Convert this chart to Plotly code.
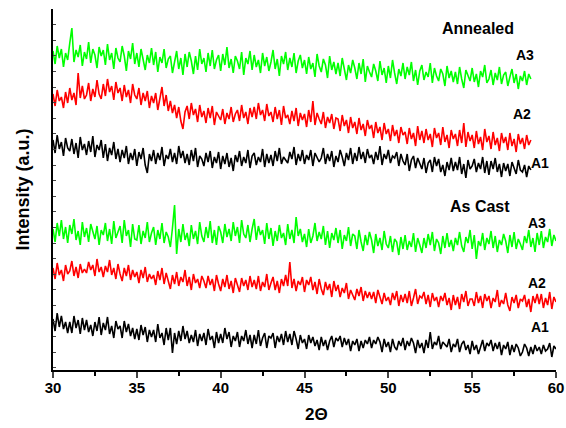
import plotly.graph_objects as go

# sampling grid (2-theta, degrees)
X_START = 30.0
X_STEP = 0.125

# ---- Annealed (30 - 58.5) ----
annealed_A3 = [
    318, 305, 323, 311, 320, 302, 316, 309,
    326, 341, 307, 319, 312, 324, 303, 317,
    310, 327, 306, 320, 314, 301, 322, 313,
    319, 304, 325, 309, 316, 300, 321, 311,
    307, 323, 313, 298, 318, 310, 326, 305,
    316, 302, 320, 308, 299, 314, 306, 321,
    304, 317, 297, 312, 306, 320, 301, 310,
    313, 296, 309, 318, 300, 311, 294, 315,
    302, 317, 308, 295, 313, 299, 320, 305,
    311, 297, 316, 303, 319, 300, 309, 314,
    298, 315, 304, 322, 301, 310, 296, 313,
    308, 300, 317, 294, 311, 305, 318, 299,
    314, 302, 309, 296, 316, 303, 312, 298,
    307, 319, 300, 310, 293, 313, 305, 317,
    299, 311, 302, 316, 296, 308, 314, 301,
    309, 295, 312, 300, 306, 292, 315, 303,
    297, 310, 304, 291, 313, 299, 307, 295,
    306, 293, 311, 298, 289, 304, 296, 309,
    301, 290, 306, 295, 310, 287, 303, 297,
    292, 305, 298, 288, 308, 294, 301, 286,
    303, 291, 309, 296, 285, 300, 293, 306,
    290, 302, 294, 307, 288, 299, 284, 298,
    304, 289, 297, 292, 306, 286, 301, 293,
    288, 300, 295, 283, 303, 291, 298, 287,
    297, 285, 302, 290, 281, 299, 294, 288,
    301, 287, 295, 282, 298, 292, 304, 286,
    290, 299, 284, 296, 289, 302, 285, 294,
    297, 283, 292, 300, 286, 295, 280, 293,
    288, 298, 284, 295, 290,
]
annealed_A2 = [
    275, 263, 279, 268, 272, 261, 277, 266,
    281, 269, 276, 264, 296, 271, 283, 270,
    274, 286, 268, 280, 272, 289, 275, 270,
    285, 273, 290, 277, 283, 269, 287, 276,
    281, 268, 284, 272, 279, 266, 285, 274,
    270, 281, 264, 276, 268, 278, 261, 273,
    266, 276, 259, 270, 282, 263, 274, 258,
    268, 256, 264, 251, 262, 248, 240, 257,
    263, 250, 266, 254, 260, 247, 264, 252,
    258, 246, 261, 251, 263, 244, 257, 253,
    249, 260, 245, 256, 250, 262, 247, 255,
    259, 248, 264, 251, 257, 245, 261, 252,
    262, 250, 266, 254, 259, 248, 265, 253,
    257, 247, 262, 250, 259, 244, 263, 251,
    254, 245, 258, 248, 261, 243, 256, 249,
    255, 242, 259, 247, 268, 244, 256, 250,
    245, 257, 241, 252, 246, 255, 240, 251,
    250, 238, 254, 243, 249, 236, 252, 241,
    247, 235, 251, 239, 245, 233, 249, 240,
    244, 231, 247, 236, 242, 229, 246, 235,
    240, 228, 244, 233, 239, 226, 242, 234,
    237, 225, 241, 230, 236, 223, 243, 229,
    238, 226, 240, 229, 235, 222, 241, 231,
    236, 224, 242, 227, 234, 221, 239, 230,
    235, 223, 239, 226, 246, 222, 237, 228,
    234, 221, 238, 225, 232, 219, 240, 227,
    233, 220, 237, 224, 231, 218, 236, 226,
    232, 219, 236, 223, 230, 217, 235, 225,
    231, 220, 234, 224, 229,
]
annealed_A1 = [
    229, 216, 234, 220, 227, 213, 231, 221,
    218, 230, 215, 226, 211, 232, 219, 225,
    214, 228, 217, 233, 212, 224, 219, 229,
    211, 225, 208, 221, 214, 227, 210, 220,
    207, 219, 211, 223, 205, 216, 209, 220,
    203, 217, 210, 221, 204, 196, 215, 208,
    219, 205, 216, 209, 222, 203, 214, 210,
    220, 207, 216, 205, 223, 211, 218, 206,
    215, 204, 219, 208, 221, 202, 213, 210,
    203, 216, 207, 218, 201, 212, 206, 217,
    200, 213, 205, 216, 202, 211, 198, 214,
    207, 218, 203, 212, 206, 219, 201, 213,
    216, 204, 212, 207, 220, 202, 215, 206,
    214, 203, 218, 208, 221, 205, 212, 209,
    206, 217, 210, 222, 204, 215, 208, 219,
    205, 214, 209, 219, 203, 216, 211, 207,
    211, 221, 205, 215, 208, 218, 202, 213,
    207, 219, 212, 203, 216, 209, 221, 205,
    216, 208, 222, 210, 217, 206, 220, 211,
    214, 205, 217, 209, 223, 204, 215, 210,
    219, 206, 213, 211, 217, 203, 215, 208,
    204, 215, 198, 209, 213, 201, 211, 205,
    200, 211, 196, 206, 209, 197, 212, 203,
    210, 197, 204, 193, 207, 199, 211, 198,
    207, 199, 212, 195, 205, 191, 209, 200,
    203, 210, 197, 206, 200, 212, 196, 208,
    194, 208, 200, 211, 197, 205, 192, 206,
    198, 205, 193, 207, 201, 195, 209, 199,
    197, 204, 192, 203, 199,
]

# ---- As Cast (30 - 60) ----
ascast_A3 = [
    140, 127, 146, 133, 149, 130, 142, 126,
    144, 135, 150, 129, 138, 124, 147, 132,
    141, 127, 145, 136, 130, 143, 124, 139,
    134, 146, 128, 140, 125, 148, 131, 137,
    143, 126, 149, 133, 139, 122, 145, 130,
    129, 144, 125, 138, 131, 147, 127, 136,
    142, 124, 139, 130, 146, 126, 137, 132,
    122, 141, 164, 115, 140, 127, 145, 129,
    136, 123, 144, 130, 138, 125, 147, 133,
    127, 142, 131, 148, 126, 139, 124, 143,
    137, 126, 145, 132, 140, 128, 147, 133,
    142, 126, 149, 135, 131, 144, 127, 140,
    150, 129, 143, 134, 139, 125, 146, 130,
    141, 123, 138, 128, 144, 131, 136, 124,
    145, 130, 139, 126, 152, 133, 140, 127,
    135, 122, 140, 126, 133, 146, 128, 137,
    130, 143, 124, 138, 121, 136, 129, 141,
    126, 139, 120, 134, 128, 142, 123, 135,
    133, 120, 139, 127, 118, 134, 124, 137,
    129, 116, 135, 123, 131, 119, 138, 125,
    121, 133, 117, 130, 127, 114, 132, 120,
    134, 119, 128, 122, 136, 117, 131, 124,
    116, 131, 121, 135, 124, 137, 118, 130,
    126, 115, 133, 121, 136, 122, 129, 118,
    131, 124, 137, 123, 117, 132, 126, 139,
    120, 134, 110, 128, 123, 136, 119, 131,
    125, 138, 121, 133, 117, 129, 124, 135,
    128, 116, 134, 122, 137, 120, 130, 125,
    119, 133, 126, 139, 122, 131, 117, 136,
    124, 138, 121, 132, 127, 140, 123, 134,
    128,
]
ascast_A2 = [
    101, 90, 106, 94, 99, 88, 104, 95,
    98, 108, 93, 102, 91, 105, 96, 100,
    96, 107, 99, 104, 93, 110, 97, 102,
    92, 103, 97, 109, 94, 101, 90, 105,
    95, 88, 101, 93, 104, 89, 99, 92,
    97, 86, 99, 91, 102, 87, 95, 90,
    94, 84, 98, 89, 101, 85, 96, 88,
    80, 94, 85, 97, 83, 92, 87, 99,
    83, 92, 79, 95, 86, 90, 81, 93,
    88, 81, 93, 84, 90, 78, 94, 85,
    78, 90, 82, 94, 80, 88, 76, 91,
    85, 77, 91, 83, 89, 79, 93, 82,
    89, 80, 93, 78, 87, 82, 95, 79,
    86, 92, 79, 88, 76, 90, 83, 94,
    83, 107, 81, 90, 78, 88, 84, 92,
    77, 89, 84, 92, 79, 87, 75, 90,
    80, 74, 87, 79, 85, 72, 88, 78,
    84, 72, 81, 76, 86, 70, 79, 74,
    69, 80, 73, 82, 68, 78, 71, 77,
    70, 77, 66, 79, 72, 65, 76, 68,
    72, 64, 76, 69, 78, 63, 74, 67,
    75, 66, 78, 63, 71, 80, 65, 73,
    71, 77, 65, 74, 62, 76, 68, 72,
    62, 73, 68, 76, 64, 71, 59, 74,
    64, 72, 60, 75, 67, 78, 63, 70,
    70, 63, 77, 66, 73, 61, 75, 68,
    73, 61, 71, 67, 79, 62, 69, 65,
    76, 64, 58, 72, 66, 74, 61, 70,
    68, 74, 62, 70, 57, 73, 66, 75,
    65, 75, 61, 71, 64, 77, 60, 72,
    67,
]
ascast_A1 = [
    50, 38, 56, 42, 53, 40, 47, 36,
    47, 36, 53, 41, 49, 35, 51, 39,
    49, 37, 44, 33, 47, 38, 52, 34,
    46, 39, 52, 35, 43, 31, 48, 40,
    43, 31, 48, 37, 45, 33, 41, 30,
    40, 29, 44, 34, 42, 27, 39, 32,
    39, 27, 45, 31, 36, 24, 41, 29,
    41, 16, 36, 25, 38, 28, 43, 30,
    38, 26, 34, 27, 39, 23, 35, 28,
    36, 24, 40, 29, 33, 21, 37, 26,
    35, 26, 41, 30, 37, 22, 33, 28,
    37, 22, 33, 28, 39, 25, 34, 21,
    34, 25, 39, 23, 31, 36, 21, 33,
    31, 36, 21, 33, 27, 35, 24, 38,
    27, 35, 24, 38, 30, 20, 34, 26,
    30, 20, 34, 26, 32, 23, 29, 19,
    32, 23, 29, 19, 28, 33, 22, 31,
    28, 33, 22, 31, 24, 30, 18, 28,
    24, 30, 18, 28, 21, 29, 25, 32,
    21, 29, 25, 32, 27, 17, 30, 22,
    27, 17, 30, 22, 19, 28, 23, 31,
    19, 28, 23, 31, 26, 16, 29, 21,
    26, 16, 29, 21, 37, 20, 27, 24,
    33, 20, 27, 24, 22, 30, 17, 25,
    22, 30, 17, 25, 28, 19, 24, 15,
    28, 19, 24, 15, 23, 29, 18, 26,
    23, 29, 18, 26, 20, 27, 14, 24,
    20, 27, 14, 24, 17, 25, 21, 13,
    17, 25, 21, 13, 22, 15, 24, 18,
    22, 15, 24, 18, 20, 26, 12, 23,
    20,
]

series = [
    (annealed_A3, "#00FF00"), (annealed_A2, "#FF0000"), (annealed_A1, "#000000"),
    (ascast_A3, "#00FF00"), (ascast_A2, "#FF0000"), (ascast_A1, "#000000"),
]

# text labels (text, x, y, size)
labels = [
    ("Annealed", 55.35, 341, 16),
    ("A3", 58.15, 314, 14),
    ("A2", 57.97, 255, 14),
    ("A1", 59.05, 206, 14),
    ("As Cast", 55.45, 163, 16),
    ("A3", 58.86, 146, 14),
    ("A2", 58.86, 86, 14),
    ("A1", 59.05, 42, 14),
]

FONT = "Liberation Sans, Arial, sans-serif"

fig = go.Figure()
for vals, col in series:
    xs = [X_START + X_STEP * i for i in range(len(vals))]
    fig.add_trace(go.Scatter(x=xs, y=vals, mode="lines",
                             line=dict(color=col, width=1.6), showlegend=False,
                             hoverinfo="skip"))

for txt, lx, ly, sz in labels:
    fig.add_annotation(x=lx, y=ly, text=txt, showarrow=False,
                       xanchor="center", yanchor="middle",
                       font=dict(family=FONT, size=sz, color="black", weight="bold"))

fig.add_annotation(xref="paper", yref="paper", x=(22 - 53) / 503, y=0.5,
                   xanchor="center", yanchor="middle",
                   text="Intensity (a.u.)", textangle=-90, showarrow=False,
                   font=dict(family=FONT, size=18, color="black", weight="bold"))
fig.add_annotation(xref="paper", yref="paper", x=(316 - 53) / 503, y=-(414 - 370) / 361,
                   xanchor="center", yanchor="middle",
                   text="2Θ", showarrow=False,
                   font=dict(family=FONT, size=17, color="black", weight="bold"))

fig.update_layout(
    width=566, height=428,
    margin=dict(l=53, r=10, t=9, b=58, autoexpand=False),
    paper_bgcolor="white", plot_bgcolor="white",
    xaxis=dict(range=[30, 60], tick0=30, dtick=5, ticks="outside", ticklen=6,
               tickwidth=1.5, showline=True, linecolor="black", linewidth=1.5,
               showgrid=False, zeroline=False, automargin=False,
               ticklabelstandoff=-3,
               tickfont=dict(family=FONT, size=15, color="black", weight="bold"),
               minor=dict(dtick=2.5, ticks="outside", ticklen=4, tickwidth=1.5,
                          tickcolor="black", showgrid=False)),
    yaxis=dict(range=[-1, 360], tick0=360, dtick=15.6, ticks="inside", ticklen=3,
               tickwidth=1, showline=True, linecolor="black", linewidth=1.5,
               showgrid=False, zeroline=False, showticklabels=False, automargin=False),
)

fig.write_html("out.html", config={"displayModeBar": False},
               post_script="document.body.style.margin='0';")
